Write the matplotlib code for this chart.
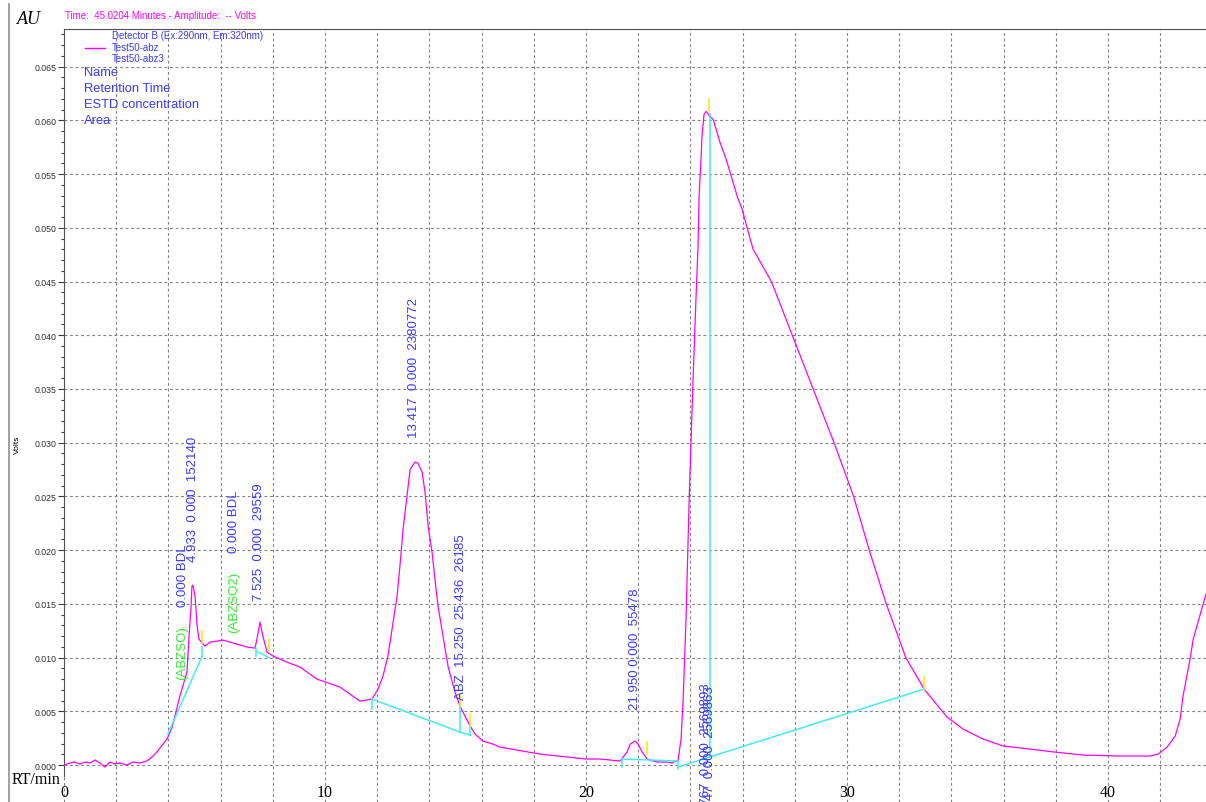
from matplotlib import pyplot as plt
from matplotlib.lines import Line2D

# chromatogram trace (minutes, volts)
rt_min = [0.00, 0.23, 0.42, 0.61, 0.80, 1.00, 1.19, 1.38, 1.57, 1.76, 1.95, 2.15, 2.41, 2.64, 2.91,
          3.18, 3.37, 3.56, 3.79, 3.95, 4.14, 4.44, 4.71, 4.79, 4.87, 4.90, 4.94, 5.02, 5.10, 5.17,
          5.29, 5.40, 5.59, 5.86, 6.09, 6.36, 6.63, 7.01, 7.32, 7.39, 7.51, 7.62, 7.78, 8.01, 8.54,
          9.04, 9.69, 10.57, 11.34, 11.80, 12.03, 12.22, 12.41, 12.61, 12.76, 12.87, 12.99, 13.14,
          13.26, 13.45, 13.56, 13.72, 13.83, 13.95, 14.10, 14.21, 14.33, 14.52, 14.71, 14.98, 15.17,
          15.36, 15.56, 15.75, 16.05, 16.44, 16.70, 18.24, 20.00, 20.54, 21.30, 21.57, 21.69, 21.88,
          21.99, 22.15, 22.34, 22.72, 23.10, 23.30, 23.41, 23.52, 23.64, 23.72, 23.83, 23.95, 24.10,
          24.21, 24.29, 24.33, 24.41, 24.44, 24.52, 24.60, 24.71, 24.87, 25.02, 25.13, 25.33, 25.52,
          25.79, 25.98, 26.17, 26.40, 27.10, 27.90, 28.70, 29.50, 30.25, 30.85, 31.50, 32.25, 32.95,
          33.83, 34.44, 35.21, 35.98, 37.01, 37.93, 39.04, 40.34, 41.61, 41.92, 42.26, 42.57, 42.76,
          42.87, 43.14, 43.26, 43.75]
signal_v = [0.00000, 0.00019, 0.00028, 0.00009, 0.00028, 0.00019, 0.00047, 0.00019, -0.00019, 0.00028,
            0.00009, 0.00019, 0.00000, 0.00028, 0.00019, 0.00037, 0.00074, 0.00121, 0.00195, 0.00242,
            0.00350, 0.00642, 0.00865, 0.01200, 0.01479, 0.01665, 0.01674, 0.01572, 0.01293, 0.01172,
            0.01135, 0.01107, 0.01144, 0.01153, 0.01163, 0.01144, 0.01126, 0.01098, 0.01088, 0.01172,
            0.01330, 0.01200, 0.01051, 0.01014, 0.00958, 0.00912, 0.00800, 0.00726, 0.00595, 0.00614,
            0.00707, 0.00828, 0.01014, 0.01330, 0.01572, 0.01851, 0.02195, 0.02502, 0.02753, 0.02819,
            0.02809, 0.02726, 0.02540, 0.02223, 0.01981, 0.01730, 0.01479, 0.01200, 0.00921, 0.00679,
            0.00549, 0.00456, 0.00363, 0.00288, 0.00223, 0.00195, 0.00167, 0.00102, 0.00056, 0.00056,
            0.00037, 0.00121, 0.00195, 0.00223, 0.00195, 0.00121, 0.00056, 0.00028, 0.00028, 0.00019,
            0.00037, 0.00037, 0.00242, 0.00614, 0.01358, 0.02474, 0.03591, 0.04335, 0.04828, 0.05293,
            0.05665, 0.05851, 0.06056, 0.06084, 0.06047, 0.06009, 0.05888, 0.05795, 0.05665, 0.05516,
            0.05293, 0.05172, 0.05000, 0.04800, 0.04500, 0.04000, 0.03500, 0.03000, 0.02500, 0.02000,
            0.01500, 0.01000, 0.00707, 0.00447, 0.00335, 0.00242, 0.00177, 0.00149, 0.00121, 0.00093,
            0.00084, 0.00084, 0.00102, 0.00167, 0.00270, 0.00428, 0.00642, 0.00986, 0.01172, 0.01591]

# integration baselines (start, end) and drop lines
baseline_x = [(3.98, 5.29), (7.36, 7.85), (11.80, 15.17), (15.17, 15.56), (21.38, 23.52), (23.52, 32.95)]
baseline_y = [(0.00288, 0.01014), (0.01060, 0.01000), (0.00614, 0.00307), (0.00307, 0.00279),
              (0.00056, 0.00037), (-0.00019, 0.00707)]
drop_x = [5.29, 7.36, 11.80, 15.17, 15.56, 21.38, 23.52, 24.75]
drop_lo = [0.01014, 0.01014, 0.00521, 0.00307, 0.00279, -0.00019, -0.00037, 0.00074]
drop_hi = [0.01098, 0.01088, 0.00614, 0.00549, 0.00363, 0.00056, 0.00037, 0.06060]
marker_x = [5.29, 7.85, 15.17, 15.56, 22.34, 24.71, 32.95]
marker_v = [0.01135, 0.01060, 0.00549, 0.00363, 0.00100, 0.06084, 0.00707]

# peak annotations: text, x, y, colour, vertical anchor
peak_text = ["(ABZSO)", "0.000 BDL", "4.933  0.000  152140", "(ABZSO2)", "0.000 BDL",
             "7.525  0.000  29559", "13.417  0.000  2380772", "ABZ  15.250  25.436  26185",
             "21.950 0.000  55478", "24.767  0.000  2569893", "24.747  0.000  2569863"]
peak_x = [4.52, 4.56, 4.94, 6.51, 6.51, 7.47, 13.39, 15.21, 21.88, 24.58, 24.74]
peak_y = [0.00800, 0.01480, 0.01900, 0.01237, 0.01980, 0.01540, 0.03050, 0.00614, 0.00521, 0.00772, 0.00744]
peak_col = ['#33ee33', '#3a3aff', '#3a3aff', '#33ee33', '#3a3aff', '#3a3aff', '#3a3aff', '#3a3aff',
            '#3a3aff', '#3a3aff', '#3a3aff']
peak_va = ['bottom'] * 9 + ['top', 'top']

x_ticks = list(range(0, 44, 2))
x_labels = [str(t) if t % 10 == 0 else '' for t in x_ticks]
y_ticks = [i * 0.005 for i in range(14)]
y_minor = [i * 0.001 for i in range(69)]

sans = 'Liberation Sans'
serif = 'Liberation Serif'

fig = plt.figure(figsize=(12.06, 8.03), dpi=100)
fig.patch.set_facecolor('white')
ax = fig.add_axes([64 / 1206, 0.0, 1 - 64 / 1206, 1 - 30 / 803])
ax.set_xlim(0, 43.75)
ax.set_ylim(-0.00344, 0.0685)

# grid
ax.set_xticks(x_ticks)
ax.set_xticklabels(x_labels, fontfamily=serif, fontsize=11.5)
ax.set_yticks(y_ticks)
ax.set_yticklabels(['%.3f' % v for v in y_ticks], fontfamily=sans, fontsize=6.3, color='#303030')
ax.set_yticks(y_minor, minor=True)
ax.grid(True, color='#808080', linewidth=0.8, linestyle=(0, (2.5, 2.5)))
ax.tick_params(axis='x', length=0, pad=-13)
ax.tick_params(axis='y', which='major', length=4, width=0.8, color='#404040', pad=1.5)
ax.tick_params(axis='y', which='minor', length=2, width=0.8, color='#404040')
ax.spines['right'].set_visible(False)
ax.spines['bottom'].set_visible(False)
ax.spines['left'].set_color('#505050')
ax.spines['top'].set_color('#505050')
ax.spines['left'].set_bounds(-0.001, 0.0685)

# trace
ax.plot(rt_min, signal_v, color='#ff00ff', linewidth=0.9, zorder=3)

# baselines and markers
for (x0, x1), (y0, y1) in zip(baseline_x, baseline_y):
    ax.plot([x0, x1], [y0, y1], color='#40eef0', linewidth=1.1, zorder=4)
for x, lo, hi in zip(drop_x, drop_lo, drop_hi):
    ax.plot([x, x], [lo, hi], color='#40eef0', linewidth=1.1, zorder=4)
for x, v in zip(marker_x, marker_v):
    ax.plot([x, x], [v, v + 0.0011], color='#f0f000', linewidth=1.1, zorder=5)

for t, x, y, c, va in zip(peak_text, peak_x, peak_y, peak_col, peak_va):
    ax.text(x, y, t, rotation=90, ha='center', va=va, color=c, fontfamily=sans,
            fontsize=9.5, zorder=6, clip_on=True)

# header / legend block
fig.text(65 / 1206, 1 - 16 / 803, 'Time:  45.0204 Minutes - Amplitude:  -- Volts', color='#ff00ff',
         fontfamily=sans, fontsize=7, va='center')
fig.text(112 / 1206, 1 - 36 / 803, 'Detector B (Ex:290nm, Em:320nm)', color='#3a3aff',
         fontfamily=sans, fontsize=7, va='center')
fig.add_artist(Line2D([85 / 1206, 105 / 1206], [1 - 49 / 803] * 2, color='#ff00ff', linewidth=1))
fig.text(112 / 1206, 1 - 48 / 803, 'Test50-abz', color='#3a3aff', fontfamily=sans, fontsize=7, va='center')
fig.text(112 / 1206, 1 - 59 / 803, 'Test50-abz3', color='#3a3aff', fontfamily=sans, fontsize=7, va='center')
for i, lab in enumerate(['Name', 'Retention Time', 'ESTD concentration', 'Area']):
    fig.text(84 / 1206, 1 - (73 + 16 * i) / 803, lab, color='#3a3aff', fontfamily=sans, fontsize=9.3,
             va='center')

# outer axis captions
fig.text(17 / 1206, 1 - 20 / 803, 'AU', fontfamily=serif, style='italic', fontsize=13, va='center')
fig.text(17 / 1206, 1 - 445 / 803, 'Volts', fontfamily=sans, fontsize=6, rotation=90,
         ha='center', va='center')
fig.text(12 / 1206, 1 - 780 / 803, 'RT/min', fontfamily=serif, fontsize=11.5, va='center')
fig.add_artist(Line2D([9 / 1206] * 2, [0, 1 - 5 / 803], color='#909090', linewidth=1.2))

fig.savefig('out.png', dpi=100)
